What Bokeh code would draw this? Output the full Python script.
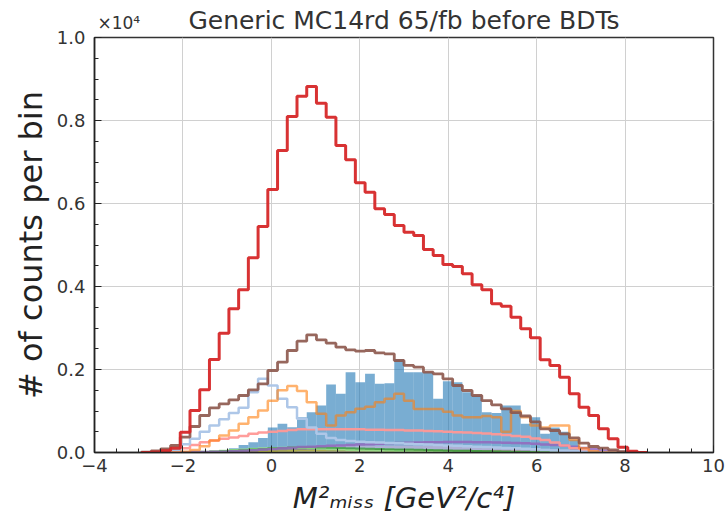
import numpy as np
from bokeh.plotting import figure
from bokeh.models import (LinearAxis, FixedTicker, SingleIntervalTicker,
                          PrintfTickFormatter, CustomJSTickFormatter)
from bokeh.embed import file_html
from bokeh.resources import INLINE

# ---- binning (M^2_miss, GeV^2/c^4) ----
bin_lo = -2.94
bin_width = 0.22
n_bins = 52

# ---- per-bin counts ----
total = [0, 15, 40, 100, 490, 1012, 1511, 2241, 2875, 3463, 3920, 4692, 5446, 6338,
         7278, 8098, 8587, 8821, 8418, 8081, 7399, 7054, 6500, 6273, 5873, 5736, 5471,
         5310, 5230, 4892, 4748, 4531, 4483, 4306, 4041, 3921, 3584, 3526, 3261, 2981,
         2764, 2234, 2097, 1815, 1415, 1092, 892, 571, 330, 128, 31, 0]
brown = [7, 40, 88, 169, 370, 627, 892, 1077, 1173, 1270, 1374, 1511, 1656, 1976,
         2176, 2458, 2682, 2836, 2716, 2634, 2538, 2475, 2441, 2458, 2400, 2378, 2217,
         2097, 2056, 1936, 1896, 1776, 1615, 1494, 1374, 1250, 1150, 1050, 960, 880,
         740, 571, 530, 450, 354, 224, 145, 104, 64, 20, 0, 0]
blue_fill = [0, 0, 0, 0, 0, 5, 10, 25, 50, 100, 180, 250, 350, 600,
             690, 610, 850, 970, 1130, 1640, 1415, 1936, 1694, 1896, 1656, 1671, 2250,
             1936, 1936, 1936, 1294, 1719, 1694, 1453, 1374, 972, 950, 1133, 1133, 691,
             851, 450, 600, 500, 300, 60, 20, 0, 0, 0, 0, 0]
light_blue = [0, 0, 10, 60, 200, 330, 500, 650, 800, 950, 1080, 1453, 1776, 1615,
              1294, 1092, 812, 600, 450, 350, 300, 280, 260, 250, 240, 230, 220,
              210, 200, 190, 180, 170, 160, 150, 140, 130, 120, 110, 100, 90,
              80, 60, 50, 40, 30, 20, 10, 0, 0, 0, 0, 0]
orange = [0, 0, 0, 0, 20, 60, 150, 289, 410, 530, 691, 851, 1012, 1250,
          1500, 1600, 1480, 1212, 932, 651, 892, 972, 1053, 1100, 1212, 1294, 1415,
          1250, 1050, 1050, 1050, 980, 890, 850, 850, 880, 850, 500, 1000, 850,
          650, 600, 650, 650, 300, 100, 30, 0, 0, 0, 0, 0]
salmon = [0, 0, 10, 40, 100, 180, 250, 290, 330, 360, 400, 450, 480, 500,
          520, 540, 560, 560, 560, 560, 560, 560, 560, 550, 550, 540, 540,
          530, 530, 520, 510, 500, 490, 480, 470, 460, 440, 420, 400, 380,
          340, 300, 240, 170, 100, 50, 10, 0, 0, 0, 0, 0]
purple = [0, 0, 0, 0, 5, 10, 15, 20, 20, 30, 40, 55, 70, 85,
          100, 115, 130, 140, 150, 160, 170, 180, 190, 200, 210, 220, 230,
          235, 240, 245, 250, 255, 255, 252, 250, 245, 240, 235, 230, 220,
          210, 195, 180, 160, 140, 110, 80, 50, 30, 10, 0, 0]
lavender_fill = [0, 0, 0, 0, 5, 10, 20, 30, 40, 50, 60, 70, 80, 95,
                 110, 120, 130, 140, 150, 155, 160, 165, 170, 170, 170, 170, 170,
                 170, 165, 165, 160, 160, 155, 150, 145, 140, 135, 130, 120, 110,
                 100, 90, 80, 70, 55, 40, 25, 10, 5, 0, 0, 0]
green = [0, 0, 0, 0, 0, 5, 10, 20, 30, 40, 55, 70, 85, 100,
         110, 120, 125, 125, 120, 115, 110, 100, 95, 90, 85, 80, 75,
         70, 65, 60, 55, 50, 45, 40, 35, 30, 25, 20, 15, 10,
         8, 5, 3, 0, 0, 0, 0, 0, 0, 0, 0, 0]
light_green = [0, 0, 0, 0, 5, 10, 20, 30, 45, 60, 75, 90, 100, 110,
               115, 115, 110, 100, 90, 80, 70, 60, 55, 50, 45, 40, 35,
               30, 25, 20, 18, 15, 12, 10, 8, 6, 5, 4, 3, 2,
               1, 0, 0, 0, 0, 0, 0, 0, 0, 0, 0, 0]
gray = [0, 0, 0, 0, 0, 5, 10, 15, 20, 30, 40, 50, 60, 70,
        75, 80, 80, 80, 78, 75, 72, 70, 68, 65, 62, 60, 58,
        55, 52, 50, 48, 45, 42, 40, 38, 35, 32, 30, 27, 24,
        20, 16, 12, 8, 5, 3, 0, 0, 0, 0, 0, 0]
olive = [0, 0, 0, 0, 0, 0, 0, 5, 10, 15, 20, 25, 30, 35,
         40, 45, 50, 50, 50, 50, 50, 50, 50, 48, 46, 44, 42,
         40, 38, 36, 34, 32, 30, 28, 26, 24, 22, 20, 18, 15,
         12, 10, 8, 5, 3, 0, 0, 0, 0, 0, 0, 0]

title_text = "Generic MC14rd 65/fb before BDTs"
offset_text = "\u00d710\u2074"
offset_text_x = [-3.45]   # where the offset text sits along the top edge

edges = bin_lo + bin_width * np.arange(n_bins + 1)
SCALE = 1e-4  # y axis shown in units of 10^4


def step_xy(counts):
    c = np.asarray(counts, dtype=float) * SCALE
    xs = np.concatenate([[edges[0]], edges[:-1], [edges[-1]]])
    ys = np.concatenate([[0.0], c, [0.0]])
    return xs, ys


p = figure(width=726, height=529, x_range=(-4, 10), y_range=(0, 1.0),
           output_backend="svg", toolbar_location=None,
           min_border_left=94, min_border_right=13, min_border_top=37,
           min_border_bottom=77, background_fill_color="white",
           border_fill_color="white")

# filled histograms
for counts, col, a in [(blue_fill, "#1f77b4", 0.6), (lavender_fill, "#c5b0d5", 0.7)]:
    c = np.asarray(counts, dtype=float) * SCALE
    p.quad(left=edges[:-1], right=edges[1:], bottom=0, top=c,
           fill_color=col, fill_alpha=a, line_color=None)

# step outlines
lines = [
    (olive, "#bcbd22", 0.8, 2.0),
    (gray, "#7f7f7f", 0.7, 2.0),
    (light_green, "#98df8a", 0.9, 2.0),
    (green, "#2ca02c", 0.7, 2.0),
    (purple, "#9467bd", 0.85, 2.5),
    (salmon, "#ff9896", 0.95, 2.5),
    (light_blue, "#aec7e8", 1.0, 2.5),
    (orange, "#ff7f0e", 0.6, 2.5),
    (brown, "#8c564b", 0.9, 2.8),
    (total, "#d62728", 0.95, 3.0),
]
for counts, col, a, lw in lines:
    xs, ys = step_xy(counts)
    p.step(xs, ys, mode="after", line_color=col, line_alpha=a, line_width=lw)

# axes styling (matplotlib-like, ticks inward)
p.xaxis.ticker = SingleIntervalTicker(interval=2, num_minor_ticks=4)
p.yaxis.ticker = SingleIntervalTicker(interval=0.2, num_minor_ticks=4)
p.yaxis.formatter = PrintfTickFormatter(format="%.1f")
p.xaxis.formatter = CustomJSTickFormatter(
    code="return tick < 0 ? '\u2212' + Math.abs(tick).toFixed(0) : tick.toFixed(0);")
for ax in (p.xaxis[0], p.yaxis[0]):
    ax.major_tick_in = 7
    ax.major_tick_out = 0
    ax.minor_tick_in = 4
    ax.minor_tick_out = 0
    ax.axis_line_color = "#222222"
    ax.major_tick_line_color = "#222222"
    ax.minor_tick_line_color = "#222222"
    ax.axis_line_width = 1.5
    ax.major_label_text_font = "DejaVu Sans"
    ax.major_label_text_font_size = "18px"
    ax.major_label_text_color = "#333333"
    ax.axis_label_text_font = "DejaVu Sans"
    ax.axis_label_text_color = "#222222"
    ax.axis_label_text_font_style = "normal"

p.xaxis.major_label_standoff = 6
p.yaxis.major_label_standoff = 9
p.xaxis.axis_label = "M\u00b2\u2098\u1d62\u209b\u209b [GeV\u00b2/c\u2074]"
p.xaxis.axis_label_text_font_style = "italic"
p.xaxis.axis_label_text_font_size = "29px"
p.xaxis.axis_label_standoff = 6
p.yaxis.axis_label = "# of counts per bin"
p.yaxis.axis_label_text_font_size = "32px"
p.yaxis.axis_label_standoff = 4

p.xgrid.grid_line_color = "#d0d0d0"
p.ygrid.grid_line_color = "#d0d0d0"
p.xgrid.grid_line_width = 1
p.ygrid.grid_line_width = 1
p.outline_line_color = "#333333"
p.outline_line_width = 1.5

# top axis carries the offset text (as its only tick label) and the title (as its label)
top = LinearAxis(ticker=FixedTicker(ticks=offset_text_x, minor_ticks=[]),
                 formatter=CustomJSTickFormatter(code="return '%s';" % offset_text),
                 axis_label=title_text)
top.axis_line_color = None
top.major_tick_line_color = None
top.minor_tick_line_color = None
top.major_tick_in = 0
top.major_tick_out = 0
top.major_label_standoff = 5
top.major_label_text_font = "DejaVu Sans"
top.major_label_text_font_size = "17px"
top.major_label_text_color = "#333333"
top.axis_label_text_font = "DejaVu Sans"
top.axis_label_text_font_style = "normal"
top.axis_label_text_font_size = "25px"
top.axis_label_text_color = "#333333"
top.axis_label_standoff = -25
p.add_layout(top, "above")

open("out.html", "w").write(file_html(p, INLINE))
